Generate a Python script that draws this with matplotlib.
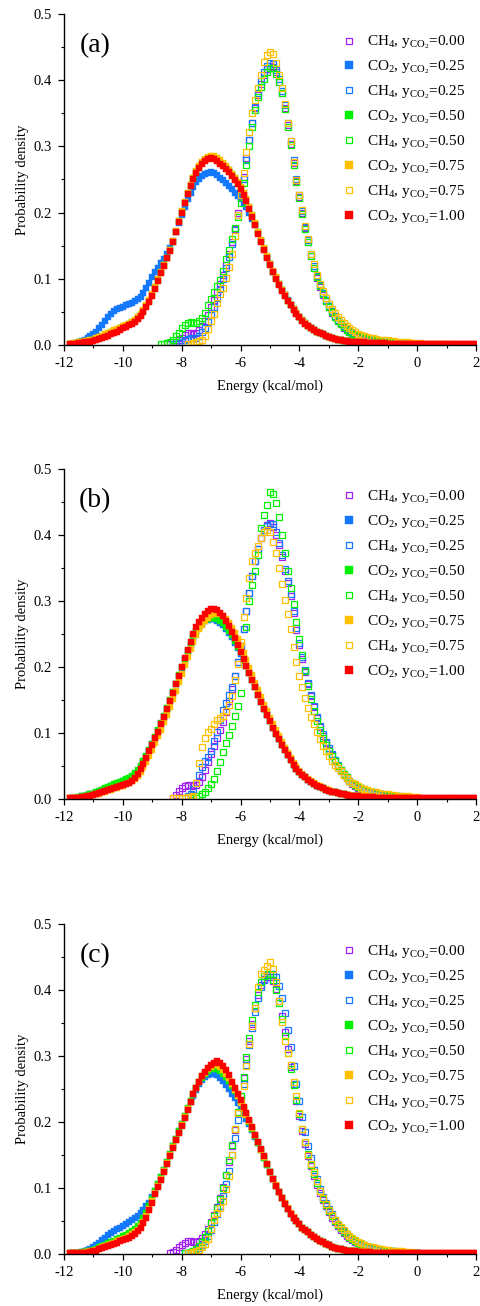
import numpy as np
import matplotlib
matplotlib.use("Agg")
import matplotlib.pyplot as plt
from matplotlib.ticker import MultipleLocator, FormatStrFormatter

plt.rcParams['font.family'] = ['Liberation Serif', 'DejaVu Serif']
plt.rcParams['mathtext.fontset'] = 'custom'
plt.rcParams['mathtext.rm'] = 'Liberation Serif'
plt.rcParams['mathtext.it'] = 'Liberation Serif:italic'
plt.rcParams['axes.unicode_minus'] = False

BIN = 0.1  # histogram bin width (kcal/mol)

# ---------------- panel (a) ----------------
a_ch4_000_start = -8.4
a_ch4_000 = [.001,.002,.004,.007,.011,
 .015,.018,.018,.017,.018,.022,.028,.036,.046,.057,
 .068,.080,.092,.106,.121,.137,.155,.175,.200,.226,
 .254,.282,.310,.336,.358,.378,.395,.408,.417,.421,
 .420,.412,.398,.380,.358,.332,.304,.275,.248,.223,
 .199,.176,.155,.135,.117,.101,.088,.076,.066,.057,
 .049,.042,.036,.031,.026,.022,.019,.016,.014,.012,
 .010,.009,.008,.007,.006,.005,.005,.004,.004,.003,
 .003,.003,.002,.002,.002,.002,.002,.001,.001,.001]
a_co2_025_start = -11.7
a_co2_025 = [.002,.003,.004,.006,.008,.010,.013,.016,
 .020,.025,.030,.036,.042,.047,.051,.054,.056,.058,
 .060,.062,.064,.066,.069,.073,.079,.086,.094,.102,
 .110,.117,.124,.130,.137,.146,.157,.170,.184,.197,
 .209,.220,.230,.239,.246,.251,.255,.258,.260,.261,
 .260,.257,.253,.249,.245,.240,.235,.230,.225,.220,
 .214,.208,.200,.191,.181,.169,.157,.145,.133,.122,
 .111,.101,.092,.083,.075,.068,.061,.054,.048,.043,
 .038,.033,.029,.026,.023,.020,.018,.016,.014,.012,
 .010,.009,.008,.007,.006,.006,.005,.005,.004,.004,
 .004,.003,.003,.003,.003,.003,.003,.003,.002,.002,
 .002,.002,.002,.002,.002,.002,.002,.002,.002,.002]
a_ch4_025_start = -8.3
a_ch4_025 = [.001,.002,.003,.005,
 .007,.009,.010,.010,.011,.014,.019,.026,.035,.046,
 .058,.071,.085,.100,.116,.133,.152,.173,.197,.223,
 .251,.280,.309,.336,.360,.381,.399,.413,.422,.426,
 .424,.416,.402,.384,.362,.336,.308,.279,.251,.226,
 .202,.179,.158,.138,.120,.104,.090,.078,.068,.059,
 .051,.044,.038,.033,.028,.024,.021,.018,.015,.013,
 .011,.010,.009,.008,.007,.006,.005,.005,.004,.004,
 .003,.003,.003,.002,.002,.002,.002,.001,.001,.001]
a_co2_050_start = -11.8
a_co2_050 = [.002,.002,.003,.004,.004,.005,.006,.007,.008,
 .009,.011,.013,.015,.017,.019,.021,.023,.025,.027,
 .029,.032,.034,.037,.041,.046,.052,.059,.067,.076,
 .087,.098,.110,.121,.132,.143,.156,.171,.187,.201,
 .215,.229,.241,.252,.261,.269,.275,.279,.282,.283,
 .283,.281,.277,.273,.269,.264,.258,.252,.245,.237,
 .229,.219,.208,.196,.183,.170,.157,.145,.133,.122,
 .111,.101,.092,.083,.075,.067,.060,.054,.048,.043,
 .038,.033,.029,.025,.022,.020,.018,.016,.014,.012,
 .010,.009,.008,.007,.006,.006,.005,.005,.004,.004,
 .004,.003,.003,.003,.003,.003,.003,.003,.002,.002,
 .002,.002,.002,.002,.002,.002,.002,.002,.002,.002]
a_ch4_050_start = -8.7
a_ch4_050 = [.001,.002,.003,.005,.008,.013,.018,.025,
 .030,.033,.034,.033,.033,.036,.041,.049,.060,.070,
 .080,.089,.098,.112,.130,.143,.160,.176,.193,.215,
 .245,.272,.300,.330,.355,.374,.390,.402,.412,.418,
 .418,.410,.398,.380,.356,.330,.302,.272,.246,.222,
 .198,.175,.155,.134,.117,.102,.089,.077,.067,.058,
 .050,.043,.037,.032,.027,.023,.020,.017,.015,.013,
 .011,.010,.009,.008,.007,.006,.006,.005,.005,.004,
 .004,.003,.003,.003,.002,.002,.002,.002,.001,.001]
a_co2_075_start = -11.8
a_co2_075 = [.002,.003,.003,.004,.005,.006,.006,.007,.008,
 .010,.012,.014,.016,.018,.020,.022,.024,.026,.028,
 .030,.032,.035,.038,.042,.047,.053,.060,.068,.077,
 .088,.099,.110,.121,.132,.144,.157,.172,.188,.202,
 .216,.230,.242,.253,.263,.271,.277,.281,.284,.285,
 .285,.283,.279,.275,.270,.265,.259,.253,.246,.238,
 .230,.220,.209,.197,.184,.171,.158,.146,.134,.123,
 .112,.102,.092,.083,.075,.067,.060,.054,.048,.043,
 .038,.033,.029,.025,.022,.020,.018,.016,.014,.012,
 .010,.009,.008,.007,.006,.006,.005,.005,.004,.004,
 .004,.003,.003,.003,.003,.003,.003,.003,.002,.002,
 .002,.002,.002,.002,.002,.002,.002,.002,.002,.002]
a_ch4_075_start = -7.8
a_ch4_075 = [.001,.002,.003,.004,.006,.008,.014,.024,.036,
 .047,.064,.077,.086,.101,.118,.138,.164,.196,.226,
 .260,.292,.322,.350,.370,.388,.408,.428,.438,.442,
 .440,.426,.408,.388,.364,.336,.308,.276,.250,.226,
 .204,.180,.160,.138,.122,.106,.092,.081,.071,.062,
 .055,.049,.043,.038,.033,.029,.025,.022,.019,.017,
 .015,.013,.012,.011,.010,.009,.008,.008,.007,.007,
 .006,.006,.005,.005,.004,.004,.004,.003,.003,.003,
 .003,.002,.002,.002,.002,.002,.001,.001,.001,.001]
a_co2_100_start = -11.8
a_co2_100 = [.001,.002,.002,.003,.003,.004,.004,.005,.006,
 .007,.009,.010,.012,.014,.016,.018,.020,.022,.025,
 .027,.030,.032,.035,.039,.044,.050,.057,.065,.074,
 .085,.097,.109,.120,.131,.142,.155,.170,.186,.200,
 .214,.228,.240,.251,.260,.268,.274,.278,.281,.282,
 .281,.278,.274,.270,.266,.261,.256,.250,.243,.235,
 .227,.218,.206,.194,.181,.168,.155,.143,.132,.121,
 .110,.100,.091,.082,.074,.067,.060,.053,.047,.042,
 .037,.032,.028,.025,.022,.020,.018,.016,.014,.012,
 .010,.009,.008,.007,.006,.006,.005,.005,.004,.004,
 .004,.004,.003,.003,.003,.003,.003,.003,.003,.002,
 .002,.002,.002,.002,.002,.002,.002,.002,.002,.002,
 .002,.002,.002,.002,.001,.001,.001,.001,.001,.001,
 .001,.001,.001,.001,.001,.001,.001,.001,.001,.001]

# ---------------- panel (b) ----------------
b_ch4_000_start = -8.3
b_ch4_000 = [.002,.006,.012,.016,
 .019,.021,.021,.020,.021,.026,.034,.044,.056,.068,
 .080,.092,.104,.117,.132,.148,.166,.186,.208,.232,
 .258,.285,.312,.338,.360,.379,.395,.407,.415,.418,
 .412,.400,.385,.366,.345,.328,.308,.282,.256,.234,
 .212,.193,.174,.156,.139,.123,.109,.096,.085,.075,
 .066,.058,.050,.043,.037,.032,.027,.023,.020,.017,
 .015,.013,.011,.010,.009,.008,.007,.006,.005,.005,
 .004,.004,.003,.003,.003,.002,.002,.002,.001,.001]
b_co2_025_start = -11.7
b_co2_025 = [.001,.002,.003,.004,.005,.006,.007,.008,
 .009,.011,.013,.015,.017,.019,.021,.023,.025,.027,
 .029,.031,.034,.038,.043,.049,.056,.064,.073,.083,
 .093,.103,.114,.125,.137,.149,.161,.174,.187,.199,
 .211,.223,.234,.244,.253,.260,.265,.269,.271,.272,
 .272,.270,.267,.263,.258,.252,.245,.237,.229,.220,
 .211,.201,.191,.180,.169,.158,.147,.137,.127,.118,
 .108,.099,.091,.082,.074,.066,.059,.052,.046,.041,
 .037,.033,.029,.026,.023,.020,.018,.016,.014,.012,
 .011,.010,.009,.008,.007,.006,.005,.005,.004,.004,
 .003,.003,.003,.003,.003,.002,.002,.002,.002,.002,
 .002,.002,.002,.002,.002,.002,.002,.002,.002,.002]
b_ch4_025_start = -7.9
b_ch4_025 = [.002,.004,.008,.015,.024,.037,.048,.057,.064,.073,
 .088,.102,.120,.135,.146,.157,.170,.187,.208,.232,
 .258,.285,.312,.338,.360,.379,.395,.407,.414,.417,
 .416,.404,.388,.369,.348,.330,.310,.285,.259,.237,
 .215,.195,.176,.158,.141,.125,.111,.098,.087,.077,
 .068,.059,.051,.044,.038,.033,.028,.024,.021,.018,
 .016,.014,.012,.011,.010,.009,.008,.007,.006,.005,
 .005,.004,.004,.003,.003,.003,.002,.002,.002,.001]
b_co2_050_start = -11.8
b_co2_050 = [.001,.002,.002,.003,.004,.005,.006,.007,.008,
 .010,.012,.014,.016,.018,.020,.022,.024,.026,.028,
 .030,.032,.035,.039,.044,.050,.057,.065,.074,.084,
 .094,.104,.115,.126,.138,.150,.162,.175,.188,.200,
 .212,.224,.235,.245,.254,.261,.267,.271,.273,.274,
 .274,.273,.270,.266,.261,.255,.248,.240,.231,.222,
 .212,.202,.191,.180,.169,.158,.147,.137,.127,.118,
 .108,.099,.091,.082,.074,.066,.059,.052,.046,.041,
 .037,.033,.029,.026,.023,.020,.018,.016,.014,.012,
 .011,.010,.009,.008,.007,.006,.005,.005,.004,.004,
 .003,.003,.003,.003,.003,.002,.002,.002,.002,.002,
 .002,.002,.002,.002,.002,.002,.002,.002,.002,.002]
b_ch4_050_start = -7.6
b_ch4_050 = [.001,.002,.004,.008,.011,.016,
 .022,.031,.042,.056,.071,.085,.097,.111,.126,.141,
 .160,.210,.260,.300,.325,.345,.370,.410,.430,.445,
 .465,.462,.448,.428,.400,.372,.346,.320,.295,.268,
 .243,.218,.194,.171,.152,.134,.118,.104,.092,.082,
 .073,.065,.057,.050,.044,.038,.033,.028,.024,.021,
 .018,.016,.014,.012,.011,.010,.009,.008,.007,.006,
 .006,.005,.005,.004,.004,.003,.003,.003,.002,.002,
 .002]
b_co2_075_start = -11.8
b_co2_075 = [.001,.001,.002,.002,.003,.003,.004,.005,.006,
 .007,.008,.010,.011,.013,.014,.016,.017,.019,.020,
 .022,.024,.027,.030,.035,.041,.048,.056,.065,.075,
 .085,.095,.105,.116,.127,.139,.151,.164,.177,.190,
 .203,.215,.227,.238,.248,.257,.264,.270,.275,.279,
 .281,.282,.281,.278,.273,.267,.259,.251,.242,.232,
 .221,.210,.199,.188,.176,.165,.154,.143,.133,.123,
 .113,.104,.095,.086,.077,.069,.062,.055,.049,.043,
 .038,.034,.030,.027,.024,.021,.019,.017,.015,.013,
 .011,.010,.009,.008,.007,.006,.006,.005,.005,.004,
 .004,.003,.003,.003,.003,.003,.002,.002,.002,.002,
 .002,.002,.002,.002,.002,.002,.002,.002,.002,.002]
b_ch4_075_start = -8.3
b_ch4_075 = [.001,.001,.002,.002,
 .002,.003,.003,.005,.025,.055,.079,.093,.101,.106,
 .113,.119,.122,.126,.134,.143,.156,.180,.205,.238,
 .276,.305,.335,.360,.373,.384,.395,.404,.408,.405,
 .390,.372,.350,.326,.302,.280,.258,.230,.207,.186,
 .170,.153,.138,.124,.113,.102,.091,.081,.072,.065,
 .058,.052,.047,.042,.037,.032,.028,.025,.022,.019,
 .017,.015,.013,.012,.011,.010,.009,.008,.007,.007,
 .006,.006,.005,.005,.004,.004,.004,.003,.003,.003]
b_co2_100_start = -11.8
b_co2_100 = [.001,.001,.002,.002,.003,.003,.004,.005,.006,
 .007,.009,.010,.012,.013,.015,.016,.018,.019,.021,
 .023,.025,.028,.032,.038,.045,.053,.062,.072,.082,
 .092,.102,.113,.124,.136,.148,.161,.174,.187,.200,
 .213,.226,.238,.250,.260,.268,.275,.281,.285,.288,
 .288,.286,.282,.277,.270,.262,.253,.244,.234,.223,
 .212,.202,.191,.180,.169,.158,.147,.137,.127,.118,
 .108,.099,.091,.082,.074,.066,.059,.052,.046,.041,
 .037,.033,.029,.026,.023,.020,.018,.016,.014,.012,
 .011,.010,.009,.008,.007,.006,.005,.005,.004,.004,
 .003,.003,.003,.003,.003,.002,.002,.002,.002,.002,
 .002,.002,.002,.002,.002,.002,.002,.002,.002,.002,
 .002,.002,.001,.001,.001,.001,.001,.001,.001,.001,
 .001,.001,.001,.001,.001,.001,.001,.001,.001,.001]

# ---------------- panel (c) ----------------
c_ch4_000_start = -8.4
c_ch4_000 = [.001,.003,.006,.010,.014,
 .017,.019,.019,.018,.018,.020,.024,.030,.038,.048,
 .059,.071,.085,.101,.119,.140,.163,.188,.214,.240,
 .267,.295,.323,.349,.372,.392,.407,.416,.420,.420,
 .414,.402,.384,.361,.336,.310,.283,.257,.232,.209,
 .187,.167,.149,.133,.118,.105,.093,.082,.072,.063,
 .055,.048,.042,.037,.032,.028,.024,.021,.018,.016,
 .014,.012,.010,.009,.008,.007,.006,.005,.005,.004,
 .004,.003,.003,.003,.002,.002,.002,.001,.001,.001]
c_co2_025_start = -11.7
c_co2_025 = [.001,.002,.002,.003,.004,.006,.008,.011,
 .014,.017,.021,.025,.029,.032,.035,.038,.040,.043,
 .046,.049,.052,.055,.058,.062,.067,.072,.078,.086,
 .095,.105,.116,.127,.139,.151,.163,.175,.186,.197,
 .208,.219,.230,.240,.249,.257,.263,.268,.271,.273,
 .273,.271,.267,.262,.256,.250,.243,.236,.229,.221,
 .213,.205,.197,.188,.178,.168,.157,.146,.135,.124,
 .113,.103,.094,.085,.076,.068,.061,.055,.050,.045,
 .040,.036,.033,.029,.026,.023,.020,.018,.015,.013,
 .011,.009,.008,.007,.006,.005,.005,.004,.004,.003,
 .003,.003,.003,.003,.002,.002,.002,.002,.002,.002,
 .002,.002,.002,.002,.002,.002,.002,.002,.002,.002]
c_ch4_025_start = -7.9
c_ch4_025 = [.001,.002,.003,.004,.006,.009,.013,.019,.027,.037,
 .048,.060,.073,.088,.106,.126,.150,.176,.203,.230,
 .258,.287,.316,.343,.367,.388,.404,.415,.422,.425,
 .425,.419,.406,.388,.365,.340,.313,.285,.258,.232,
 .208,.185,.164,.145,.128,.113,.099,.087,.077,.068,
 .060,.052,.046,.040,.035,.030,.026,.023,.020,.017,
 .015,.013,.011,.010,.009,.008,.007,.006,.005,.005,
 .004,.004,.003,.003,.003,.002,.002,.002,.001,.001]
c_co2_050_start = -11.8
c_co2_050 = [.001,.001,.002,.002,.003,.003,.004,.005,.006,
 .008,.010,.012,.014,.016,.018,.020,.022,.025,.027,
 .029,.032,.035,.038,.042,.047,.054,.062,.072,.083,
 .095,.106,.117,.128,.140,.152,.164,.175,.186,.197,
 .209,.221,.232,.243,.252,.260,.267,.273,.277,.280,
 .281,.280,.277,.273,.268,.262,.255,.247,.239,.230,
 .220,.210,.200,.190,.179,.168,.157,.146,.135,.124,
 .113,.103,.094,.085,.076,.068,.061,.055,.050,.045,
 .040,.036,.033,.029,.026,.023,.020,.018,.015,.013,
 .011,.009,.008,.007,.006,.005,.005,.004,.004,.003,
 .003,.003,.003,.003,.002,.002,.002,.002,.002,.002,
 .002,.002,.002,.002,.002,.002,.002,.002,.002,.002]
c_ch4_050_start = -7.9
c_ch4_050 = [.001,.002,.003,.005,.008,.012,.018,.026,.035,.047,
 .058,.070,.083,.100,.120,.142,.165,.190,.215,.240,
 .268,.298,.328,.354,.377,.397,.412,.421,.425,.424,
 .415,.400,.380,.356,.330,.305,.280,.256,.234,.212,
 .190,.170,.151,.135,.121,.107,.095,.084,.074,.065,
 .057,.050,.044,.039,.034,.030,.026,.022,.019,.017,
 .015,.013,.011,.010,.009,.008,.007,.006,.005,.005,
 .004,.004,.003,.003,.003,.002,.002,.002,.001,.001]
c_co2_075_start = -11.8
c_co2_075 = [.001,.001,.002,.002,.002,.003,.003,.004,.005,
 .006,.008,.010,.012,.014,.015,.017,.019,.021,.023,
 .025,.027,.030,.033,.037,.042,.049,.057,.068,.080,
 .092,.103,.114,.126,.138,.150,.162,.173,.184,.195,
 .207,.219,.231,.242,.252,.261,.269,.275,.280,.284,
 .286,.286,.283,.279,.273,.266,.258,.249,.240,.231,
 .221,.211,.201,.191,.180,.169,.158,.147,.136,.125,
 .114,.104,.094,.085,.077,.069,.062,.056,.050,.045,
 .040,.036,.033,.029,.026,.023,.020,.018,.015,.013,
 .011,.009,.008,.007,.006,.005,.005,.004,.004,.003,
 .003,.003,.003,.003,.002,.002,.002,.002,.002,.002,
 .002,.002,.002,.002,.002,.002,.002,.002,.002,.002]
c_ch4_075_start = -7.8
c_ch4_075 = [.001,.002,.003,.004,.006,.010,.015,.022,.038,
 .052,.062,.070,.081,.098,.118,.150,.190,.213,.230,
 .255,.285,.318,.346,.372,.405,.424,.430,.436,.442,
 .432,.412,.384,.352,.322,.304,.286,.261,.240,.214,
 .190,.170,.150,.137,.124,.110,.096,.085,.076,.066,
 .059,.052,.046,.041,.036,.031,.027,.024,.021,.018,
 .016,.014,.012,.011,.010,.009,.008,.007,.006,.006,
 .005,.005,.004,.004,.004,.003,.003,.003,.002,.002]
c_co2_100_start = -11.8
c_co2_100 = [.001,.001,.001,.002,.002,.002,.002,.003,.004,
 .005,.007,.009,.011,.012,.014,.015,.017,.019,.021,
 .023,.025,.028,.031,.035,.040,.047,.055,.066,.078,
 .091,.102,.112,.124,.136,.148,.161,.172,.183,.194,
 .206,.218,.231,.242,.252,.261,.269,.276,.282,.287,
 .290,.292,.290,.285,.279,.271,.261,.251,.242,.233,
 .223,.213,.203,.193,.181,.170,.159,.148,.137,.125,
 .113,.103,.094,.085,.076,.068,.061,.055,.050,.045,
 .040,.036,.033,.029,.026,.023,.020,.018,.015,.013,
 .011,.009,.008,.007,.006,.005,.005,.004,.004,.003,
 .003,.003,.003,.003,.002,.002,.002,.002,.002,.002,
 .002,.002,.002,.002,.002,.002,.002,.002,.002,.002,
 .002,.002,.001,.001,.001,.001,.001,.001,.001,.001,
 .001,.001,.001,.001,.001,.001,.001,.001,.001,.001]

series_labels = [r'CH$_4$, y$_{\mathrm{CO_2}}$=0.00',
                 r'CO$_2$, y$_{\mathrm{CO_2}}$=0.25',
                 r'CH$_4$, y$_{\mathrm{CO_2}}$=0.25',
                 r'CO$_2$, y$_{\mathrm{CO_2}}$=0.50',
                 r'CH$_4$, y$_{\mathrm{CO_2}}$=0.50',
                 r'CO$_2$, y$_{\mathrm{CO_2}}$=0.75',
                 r'CH$_4$, y$_{\mathrm{CO_2}}$=0.75',
                 r'CO$_2$, y$_{\mathrm{CO_2}}$=1.00']
series_colors = ['#A020F0', '#1478FF', '#1478FF', '#00F000', '#00F000',
                 '#FFC000', '#FFC000', '#FF0000']
series_filled = [False, True, False, True, False, True, False, True]

panels = [
    ('(a)', [(a_ch4_000_start, a_ch4_000), (a_co2_025_start, a_co2_025), (a_ch4_025_start, a_ch4_025),
             (a_co2_050_start, a_co2_050), (a_ch4_050_start, a_ch4_050), (a_co2_075_start, a_co2_075),
             (a_ch4_075_start, a_ch4_075), (a_co2_100_start, a_co2_100)]),
    ('(b)', [(b_ch4_000_start, b_ch4_000), (b_co2_025_start, b_co2_025), (b_ch4_025_start, b_ch4_025),
             (b_co2_050_start, b_co2_050), (b_ch4_050_start, b_ch4_050), (b_co2_075_start, b_co2_075),
             (b_ch4_075_start, b_ch4_075), (b_co2_100_start, b_co2_100)]),
    ('(c)', [(c_ch4_000_start, c_ch4_000), (c_co2_025_start, c_co2_025), (c_ch4_025_start, c_ch4_025),
             (c_co2_050_start, c_co2_050), (c_ch4_050_start, c_ch4_050), (c_co2_075_start, c_co2_075),
             (c_ch4_075_start, c_ch4_075), (c_co2_100_start, c_co2_100)]),
]

W, H = 481, 1306
fig = plt.figure(figsize=(W / 100, H / 100), dpi=100)
ax_left, ax_right = 64, 476
tops = [14, 469, 924]
bottoms = [345, 799, 1254]

for (tag, data), top, bot in zip(panels, tops, bottoms):
    ax = fig.add_axes([ax_left / W, (H - bot) / H, (ax_right - ax_left) / W, (bot - top) / H])
    handles = []
    for (start, vals), lab, col, filled in zip(data, series_labels, series_colors, series_filled):
        e = start + BIN * np.arange(len(vals))
        if filled:
            h, = ax.plot(e, vals, ls='none', marker='s', ms=4.5, mfc=col, mec=col, mew=0.3, label=lab)
        else:
            h, = ax.plot(e, vals, ls='none', marker='s', ms=3.7, mfc='none', mec=col, mew=0.9, label=lab)
        handles.append(h)
    ax.set_xlim(-12, 2)
    ax.set_ylim(0, 0.5)
    for s in ['top', 'right']:
        ax.spines[s].set_visible(False)
    for s in ['left', 'bottom']:
        ax.spines[s].set_linewidth(1.0)
    ax.xaxis.set_major_locator(MultipleLocator(2))
    ax.xaxis.set_minor_locator(MultipleLocator(1))
    ax.yaxis.set_major_locator(MultipleLocator(0.1))
    ax.yaxis.set_minor_locator(MultipleLocator(0.05))
    ax.yaxis.set_major_formatter(FormatStrFormatter('%.1f'))
    ax.tick_params(which='major', direction='out', length=4.5, width=0.9, labelsize=10.5, pad=4)
    ax.tick_params(which='minor', direction='out', length=2.5, width=0.8)
    ax.set_xlabel('Energy (kcal/mol)', fontsize=10.5)
    ax.set_ylabel('Probability density', fontsize=10.5)
    ax.xaxis.set_label_coords(0.5, -0.105)
    ax.yaxis.set_label_coords(-0.085, 0.5)
    ax.text(0.075, 0.905, tag, transform=ax.transAxes, fontsize=20, ha='center', va='center')
    leg = ax.legend(handles=handles, loc='upper left', bbox_to_anchor=(0.677, 0.94),
                    frameon=False, fontsize=11, handlelength=0.8, handletextpad=0.75,
                    labelspacing=0.48, borderpad=0, borderaxespad=0, markerscale=1.35)

fig.savefig('out.png', dpi=100)
